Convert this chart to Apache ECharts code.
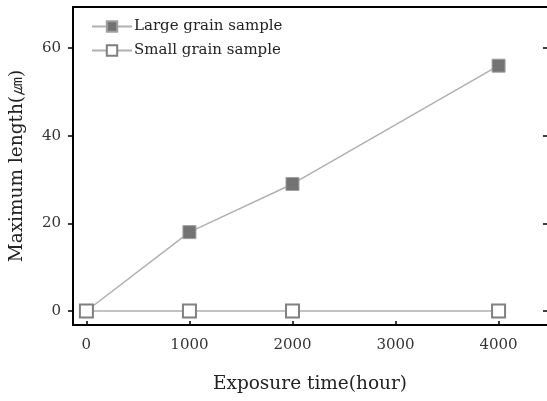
<!DOCTYPE html>
<html><head><meta charset="utf-8">
<script src="https://cdn.jsdelivr.net/npm/echarts@6/dist/echarts.min.js"></script>
<style>html,body{margin:0;padding:0;background:#fff;}#c{width:547px;height:401px;}</style>
</head><body><div id="c"></div>
<script>
const exposureHours = [0, 1000, 2000, 4000];
const largeGrain = [0, 18, 29, 56];
const smallGrain = [0, 0, 0, 0];
const xTicks = [0, 1000, 2000, 3000, 4000];
const yTicks = [0, 20, 40, 60];
const seriesNames = ['Large grain sample', 'Small grain sample'];

const FONT = '"DejaVu Serif", "Liberation Serif", serif';
const chart = echarts.init(document.getElementById('c'));
const pair = (xs, ys) => xs.map((x, i) => [x, ys[i]]);
chart.setOption({
  animation: false,
  grid: {left: 73, right: 0, top: 7, bottom: 76, containLabel: false, outerBoundsMode: 'none'},
  legend: {
    orient: 'vertical', left: 86, top: 14, itemGap: 9,
    itemWidth: 40, itemHeight: 13,
    textStyle: {fontFamily: FONT, fontSize: 15, color: '#222', padding: [0,0,0,-3]},
    data: seriesNames
  },
  xAxis: [{
    type: 'value', min: -130, max: 4470, position: 'bottom',
    name: 'Exposure time(hour)', nameLocation: 'middle', nameGap: 50,
    nameTextStyle: {fontFamily: FONT, fontSize: 18.5, color: '#222'},
    axisLine: {show: true, onZero: false, lineStyle: {color: '#000', width: 2}},
    axisTick: {show: true, inside: true, length: 4, customValues: xTicks, lineStyle: {color: '#000', width: 1.5}},
    axisLabel: {show: true, customValues: xTicks, margin: 13, fontFamily: FONT, fontSize: 15, color: '#333', formatter: v => String(v)},
    splitLine: {show: false}
  }, {
    type: 'value', min: -130, max: 4470, position: 'top',
    axisLine: {show: true, onZero: false, lineStyle: {color: '#000', width: 2}},
    axisTick: {show: false}, axisLabel: {show: false}, splitLine: {show: false}
  }],
  yAxis: [{
    type: 'value', min: -3.2, max: 69.4, position: 'left',
    name: 'Maximum length(㎛)', nameLocation: 'middle', nameGap: 46, nameRotate: 90,
    nameTextStyle: {fontFamily: FONT, fontSize: 18.5, color: '#222'},
    axisLine: {show: true, onZero: false, lineStyle: {color: '#000', width: 2}},
    axisTick: {show: true, inside: false, length: 5, customValues: yTicks, lineStyle: {color: '#000', width: 1.5}},
    axisLabel: {show: true, customValues: yTicks, margin: 12, fontFamily: FONT, fontSize: 15, color: '#333', formatter: v => String(v)},
    splitLine: {show: false}
  }, {
    type: 'value', min: -3.2, max: 69.4, position: 'right',
    axisLine: {show: false, onZero: false},
    axisTick: {show: true, inside: true, length: 4, customValues: yTicks, lineStyle: {color: '#000', width: 1.5}},
    axisLabel: {show: false}, splitLine: {show: false}
  }, {
    type: 'value', min: -3.2, max: 69.4, position: 'left',
    axisLine: {show: false, onZero: false},
    axisTick: {show: true, inside: false, length: 5, customValues: yTicks, lineStyle: {color: '#000', width: 1.5}},
    axisLabel: {show: false}, splitLine: {show: false}
  }],
  series: [{
    name: seriesNames[0], type: 'line', data: pair(exposureHours, largeGrain),
    symbol: 'rect', symbolSize: 13,
    lineStyle: {color: '#b0b0b0', width: 1.5},
    itemStyle: {color: '#737373', borderColor: '#a0a0a0', borderWidth: 1},
    z: 2
  }, {
    name: seriesNames[1], type: 'line', data: pair(exposureHours, smallGrain),
    symbol: 'rect', symbolSize: 13,
    lineStyle: {color: '#b0b0b0', width: 1.5},
    itemStyle: {color: '#ffffff', borderColor: '#808080', borderWidth: 2},
    z: 3
  }]
});
</script></body></html>
